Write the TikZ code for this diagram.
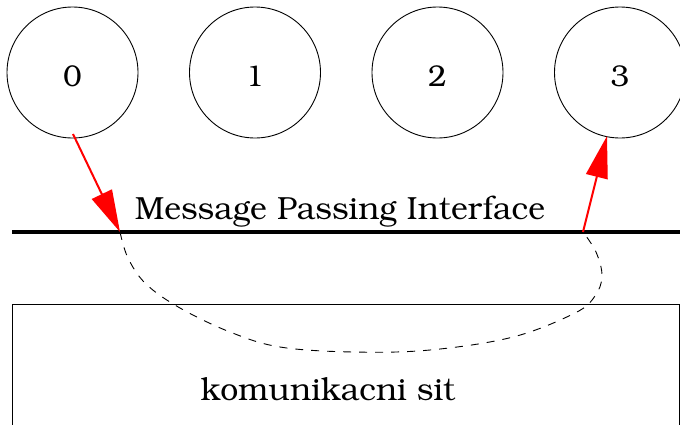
\documentclass[tikz,border=0pt]{standalone}
\usepackage[T1]{fontenc}
\usepackage{bookman}
\usetikzlibrary{arrows.meta}
\tikzset{
  proc/.style={circle, draw, line width=0.9pt, minimum size=131pt, inner sep=0pt,
               text height=27pt, text depth=0pt,
               font=\fontsize{30}{34}\selectfont},
  msg/.style={red, line width=2pt,
              -{Triangle[length=42pt, width=22pt]}, shorten >=0pt},
  route/.style={dashed, dash pattern=on 8pt off 8pt, line width=0.9pt},
  bus/.style={line width=4pt},
  lbl/.style={font=\fontsize{32}{38}\selectfont, inner sep=0pt}
}
\begin{document}
\begin{tikzpicture}[x=1pt, y=-1pt]
  \useasboundingbox (0,0) rectangle (680,424);
  \clip (0,0) rectangle (680,424);

  % processes
  \node[proc] (p0) at (72.5,72.5) {0};
  \node[proc] (p1) at (255,72.5) {1};
  \node[proc] (p2) at (437.5,72.5) {2};
  \node[proc] (p3) at (620,72.5) {3};

  % MPI layer
  \coordinate (busL) at (12,232);
  \coordinate (busR) at (680,232);
  \draw[bus] (busL) -- (busR);
  \node[lbl, anchor=base] (mpi) at (340,219) {Message Passing Interface};

  % communication network
  \node[draw, line width=1pt, minimum width=667pt, minimum height=174pt,
        inner sep=0pt, anchor=north west] (net) at (12,304) {};
  \node[lbl, anchor=base] (netlbl) at (328,400) {komunikacni sit};

  % send / receive points on the interface
  \coordinate (snd) at (120,232);
  \coordinate (rcv) at (583,232);
  \coordinate (src) at (73,134);
  \coordinate (dst) at (607,136);

  % route through the network
  \draw[route] plot[smooth, tension=0.6] coordinates {
    (snd) (128,258) (146,284) (180,308) (230,332) (280,347) (353,352)
    (430,350) (513,337) (575,313) (595,296) (602,276) (596,252) (rcv)};

  % messages
  \draw[msg] (src) -- (snd);
  \draw[msg] (rcv) -- (dst);
\end{tikzpicture}
\end{document}
